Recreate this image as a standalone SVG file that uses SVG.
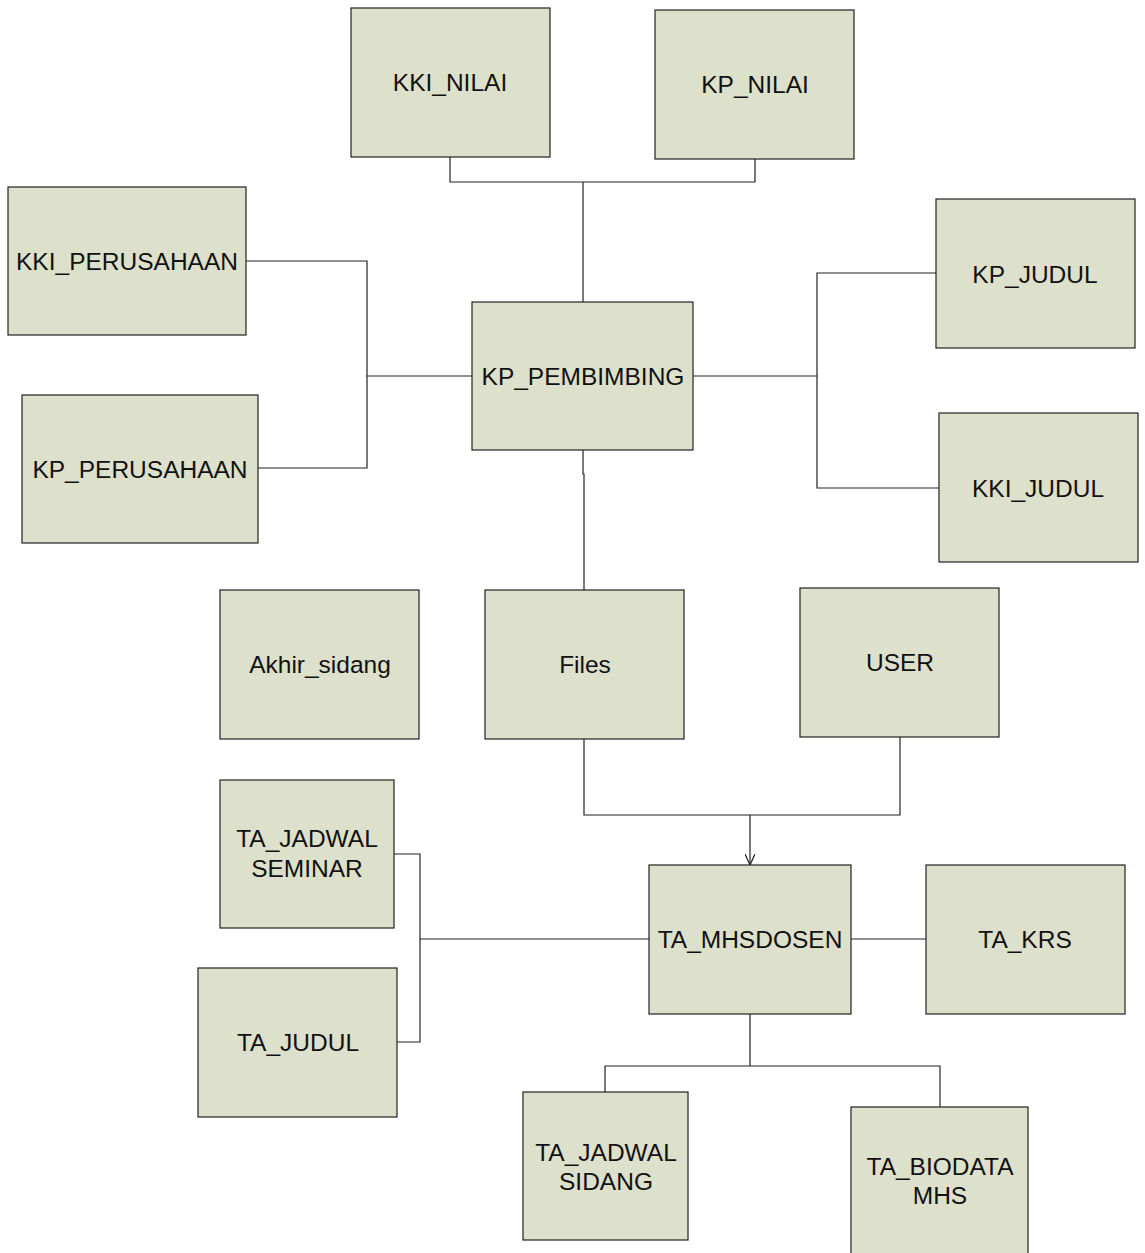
<svg xmlns="http://www.w3.org/2000/svg" width="1145" height="1253" viewBox="0 0 1145 1253">
<defs>
<style>
.n rect{fill:#DDE0CB;stroke:#222;stroke-width:1.2}
.n text{font-family:"Liberation Sans",Arial,sans-serif;font-size:24.5px;fill:#111;text-anchor:middle}
.c path{fill:none;stroke:#222;stroke-width:1.2}
</style>
<marker id="arr" markerWidth="14" markerHeight="10" refX="12" refY="5" orient="auto" markerUnits="userSpaceOnUse">
<path d="M1,0 L12,5 L1,10" fill="none" stroke="#222" stroke-width="1.2"/>
</marker>
</defs>
<rect width="1145" height="1253" fill="#fff"/>
<g class="c" id="connectors">
<path d="M450,157 V182 H755 V159"/>
<path d="M583,182 V302"/>
<path d="M246,261 H367 V468 H258"/>
<path d="M367,376 H472"/>
<path d="M693,376 H817"/>
<path d="M936,273 H817 V488 H939"/>
<path d="M583,450 V474 H584 V590"/>
<path d="M584,739 V815 H900 V737"/>
<path d="M750,815 V865" marker-end="url(#arr)"/>
<path d="M394,854 H420 V1042 H397"/>
<path d="M420,939 H649"/>
<path d="M851,939 H926"/>
<path d="M750,1014 V1066"/>
<path d="M605,1092 V1066 H940 V1107"/>
</g>
<g class="n" id="KKI_NILAI"><rect x="351" y="8" width="199" height="149"/><text x="450" y="91">KKI_NILAI</text></g>
<g class="n" id="KP_NILAI"><rect x="655" y="10" width="199" height="149"/><text x="755" y="93">KP_NILAI</text></g>
<g class="n" id="KKI_PERUSAHAAN"><rect x="8" y="187" width="238" height="148"/><text x="127" y="270">KKI_PERUSAHAAN</text></g>
<g class="n" id="KP_JUDUL"><rect x="936" y="199" width="199" height="149"/><text x="1035" y="283">KP_JUDUL</text></g>
<g class="n" id="KP_PEMBIMBING"><rect x="472" y="302" width="221" height="148"/><text x="583" y="385">KP_PEMBIMBING</text></g>
<g class="n" id="KP_PERUSAHAAN"><rect x="22" y="395" width="236" height="148"/><text x="140" y="478">KP_PERUSAHAAN</text></g>
<g class="n" id="KKI_JUDUL"><rect x="939" y="413" width="199" height="149"/><text x="1038" y="497">KKI_JUDUL</text></g>
<g class="n" id="Akhir_sidang"><rect x="220" y="590" width="199" height="149"/><text x="320" y="673">Akhir_sidang</text></g>
<g class="n" id="Files"><rect x="485" y="590" width="199" height="149"/><text x="585" y="673">Files</text></g>
<g class="n" id="USER"><rect x="800" y="588" width="199" height="149"/><text x="900" y="671">USER</text></g>
<g class="n" id="TA_JADWAL_SEMINAR"><rect x="220" y="780" width="174" height="148"/><text x="307" y="847">TA_JADWAL</text><text x="307" y="877">SEMINAR</text></g>
<g class="n" id="TA_MHSDOSEN"><rect x="649" y="865" width="202" height="149"/><text x="750" y="948">TA_MHSDOSEN</text></g>
<g class="n" id="TA_KRS"><rect x="926" y="865" width="199" height="149"/><text x="1025" y="948">TA_KRS</text></g>
<g class="n" id="TA_JUDUL"><rect x="198" y="968" width="199" height="149"/><text x="298" y="1051">TA_JUDUL</text></g>
<g class="n" id="TA_JADWAL_SIDANG"><rect x="523" y="1092" width="165" height="148"/><text x="606" y="1161">TA_JADWAL</text><text x="606" y="1190">SIDANG</text></g>
<g class="n" id="TA_BIODATA_MHS"><rect x="851" y="1107" width="177" height="160"/><text x="940" y="1175">TA_BIODATA</text><text x="940" y="1204">MHS</text></g>
</svg>
